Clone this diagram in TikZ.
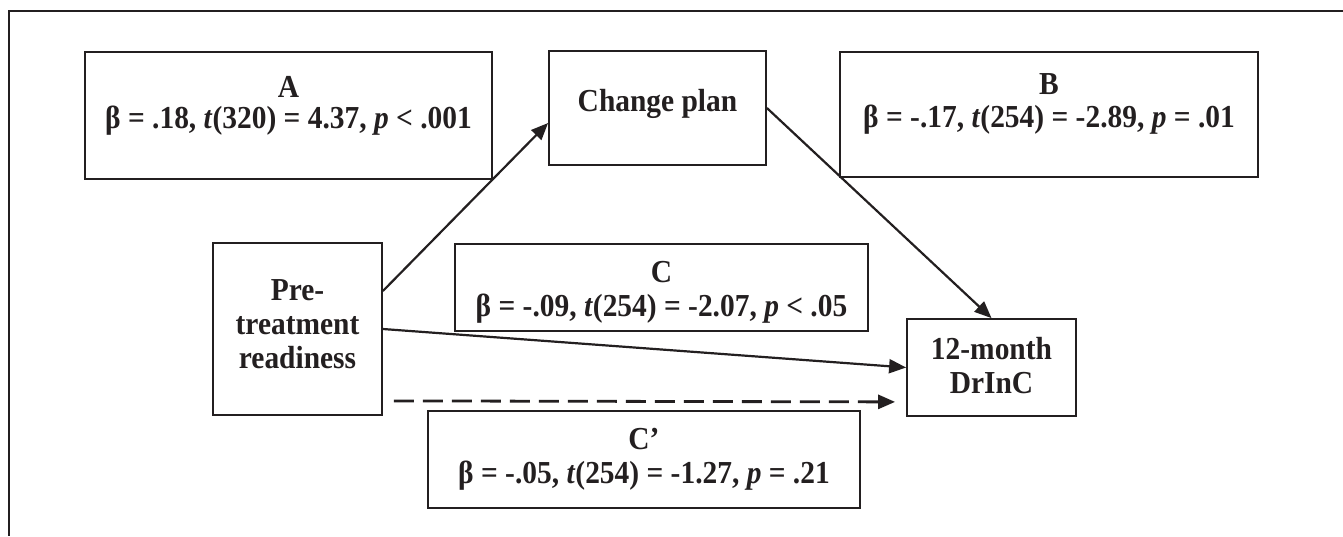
\documentclass[tikz,border=0pt]{standalone}
\usepackage{fontspec}
\setmainfont{Liberation Serif}[FakeStretch=0.92]
\usetikzlibrary{arrows.meta}
\definecolor{ink}{RGB}{35,31,32}
\newcommand\figfont{\fontsize{32}{34}\selectfont\bfseries}
\tikzset{
  box/.style={draw=ink, line width=1.8pt, rectangle, inner sep=0pt},
  lbl/.style={align=center, text=ink, font=\figfont, inner sep=0pt},
  arr/.style={draw=ink, line width=2.2pt, -{Triangle[length=17pt,width=14pt]}},
  dasharr/.style={arr, line width=2.8pt, dash pattern=on 20pt off 9pt}
}
\begin{document}
\begin{tikzpicture}[x=1pt,y=-1pt]
  \useasboundingbox (0,0) rectangle (1343,536);
  % outer frame
  \draw[ink, line width=2.7pt] (1343,11) -| (9,536);
  % boxes
  \node[box, minimum width=407pt, minimum height=127pt,
        label={[lbl,yshift=10pt]center:{A\\[-3pt]β = .18, \textit{t}(320) = 4.37, \textit{p} < .001}}] (A) at (288.5,115.5) {};
  \node[box, minimum width=217pt, minimum height=114pt,
        label={[lbl,yshift=4.5pt]center:{Change plan}}] (plan) at (657.5,108) {};
  \node[box, minimum width=418pt, minimum height=125pt,
        label={[lbl,yshift=11pt]center:{B\\[-1pt]β = -.17, \textit{t}(254) = -2.89, \textit{p} = .01}}] (B) at (1049,114.5) {};
  \node[box, minimum width=169pt, minimum height=172pt,
        label={[lbl,yshift=5pt]center:{Pre-\\treatment\\readiness}}] (pre) at (297.5,329) {};
  \node[box, minimum width=413pt, minimum height=87pt,
        label={[lbl,yshift=-5pt]center:{C\\β = -.09, \textit{t}(254) = -2.07, \textit{p} < .05}}] (C) at (661.5,287.5) {};
  \node[box, minimum width=169pt, minimum height=97pt,
        label={[lbl,yshift=2pt]center:{12-month\\DrInC}}] (out) at (991.5,367.5) {};
  \node[box, minimum width=432pt, minimum height=97pt,
        label={[lbl]center:{C’\\β = -.05, \textit{t}(254) = -1.27, \textit{p} = .21}}] (Cp) at (644,459.5) {};
  % paths
  \draw[arr] ([yshift=38pt]pre.east) -- ([yshift=-15pt]plan.west);
  \draw[arr] (plan.east) -- (out.north);
  \draw[arr] (pre.east) -- (out.west);
  \draw[dasharr] ([shift={(11,-15)}]pre.south east) -- ([shift={(-11,-15)}]out.south west);
\end{tikzpicture}
\end{document}
